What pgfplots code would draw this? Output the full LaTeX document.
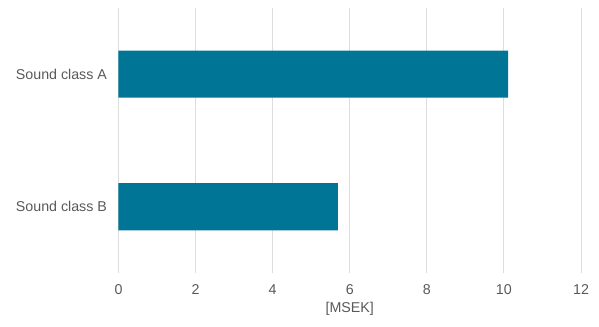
\documentclass[border=0pt]{standalone}
\usepackage{pgfplots}
\pgfplotsset{compat=1.18}
\usepackage{fontspec}
\setmainfont{Liberation Sans}
\definecolor{barc}{HTML}{017596}
\definecolor{txt}{HTML}{595959}
\definecolor{gridc}{HTML}{DDDDDD}
\begin{document}
\begin{tikzpicture}
\useasboundingbox (-118.5bp,-54bp) rectangle (480.5bp,273bp);
\begin{axis}[
  at={(0,0)}, anchor=south west,
  scale only axis,
  width=462.5bp, height=265bp,
  xbar, bar width=47bp,
  xmin=0, xmax=12, ymin=-0.5, ymax=1.5,
  xtick={0,2,...,12},
  ytick={0,1}, yticklabels={Sound class B, Sound class A},
  axis line style={draw=none},
  major tick length=0pt,
  xmajorgrids=true, ymajorgrids=false,
  major grid style={draw=gridc, line width=0.9pt},
  ticklabel style={font=\fontsize{14.3}{16}\selectfont, text=txt},
  /pgf/number format/assume math mode=true,
  xticklabel style={yshift=-8bp},
  yticklabel style={xshift=-8bp},
  xlabel={[MSEK]},
  xlabel style={font=\fontsize{14.3}{16}\selectfont, text=txt, yshift=-1bp},
  clip=false,
]
\addplot[fill=barc, draw=none] coordinates {(5.69,0) (10.11,1)};
\end{axis}
\end{tikzpicture}
\end{document}
